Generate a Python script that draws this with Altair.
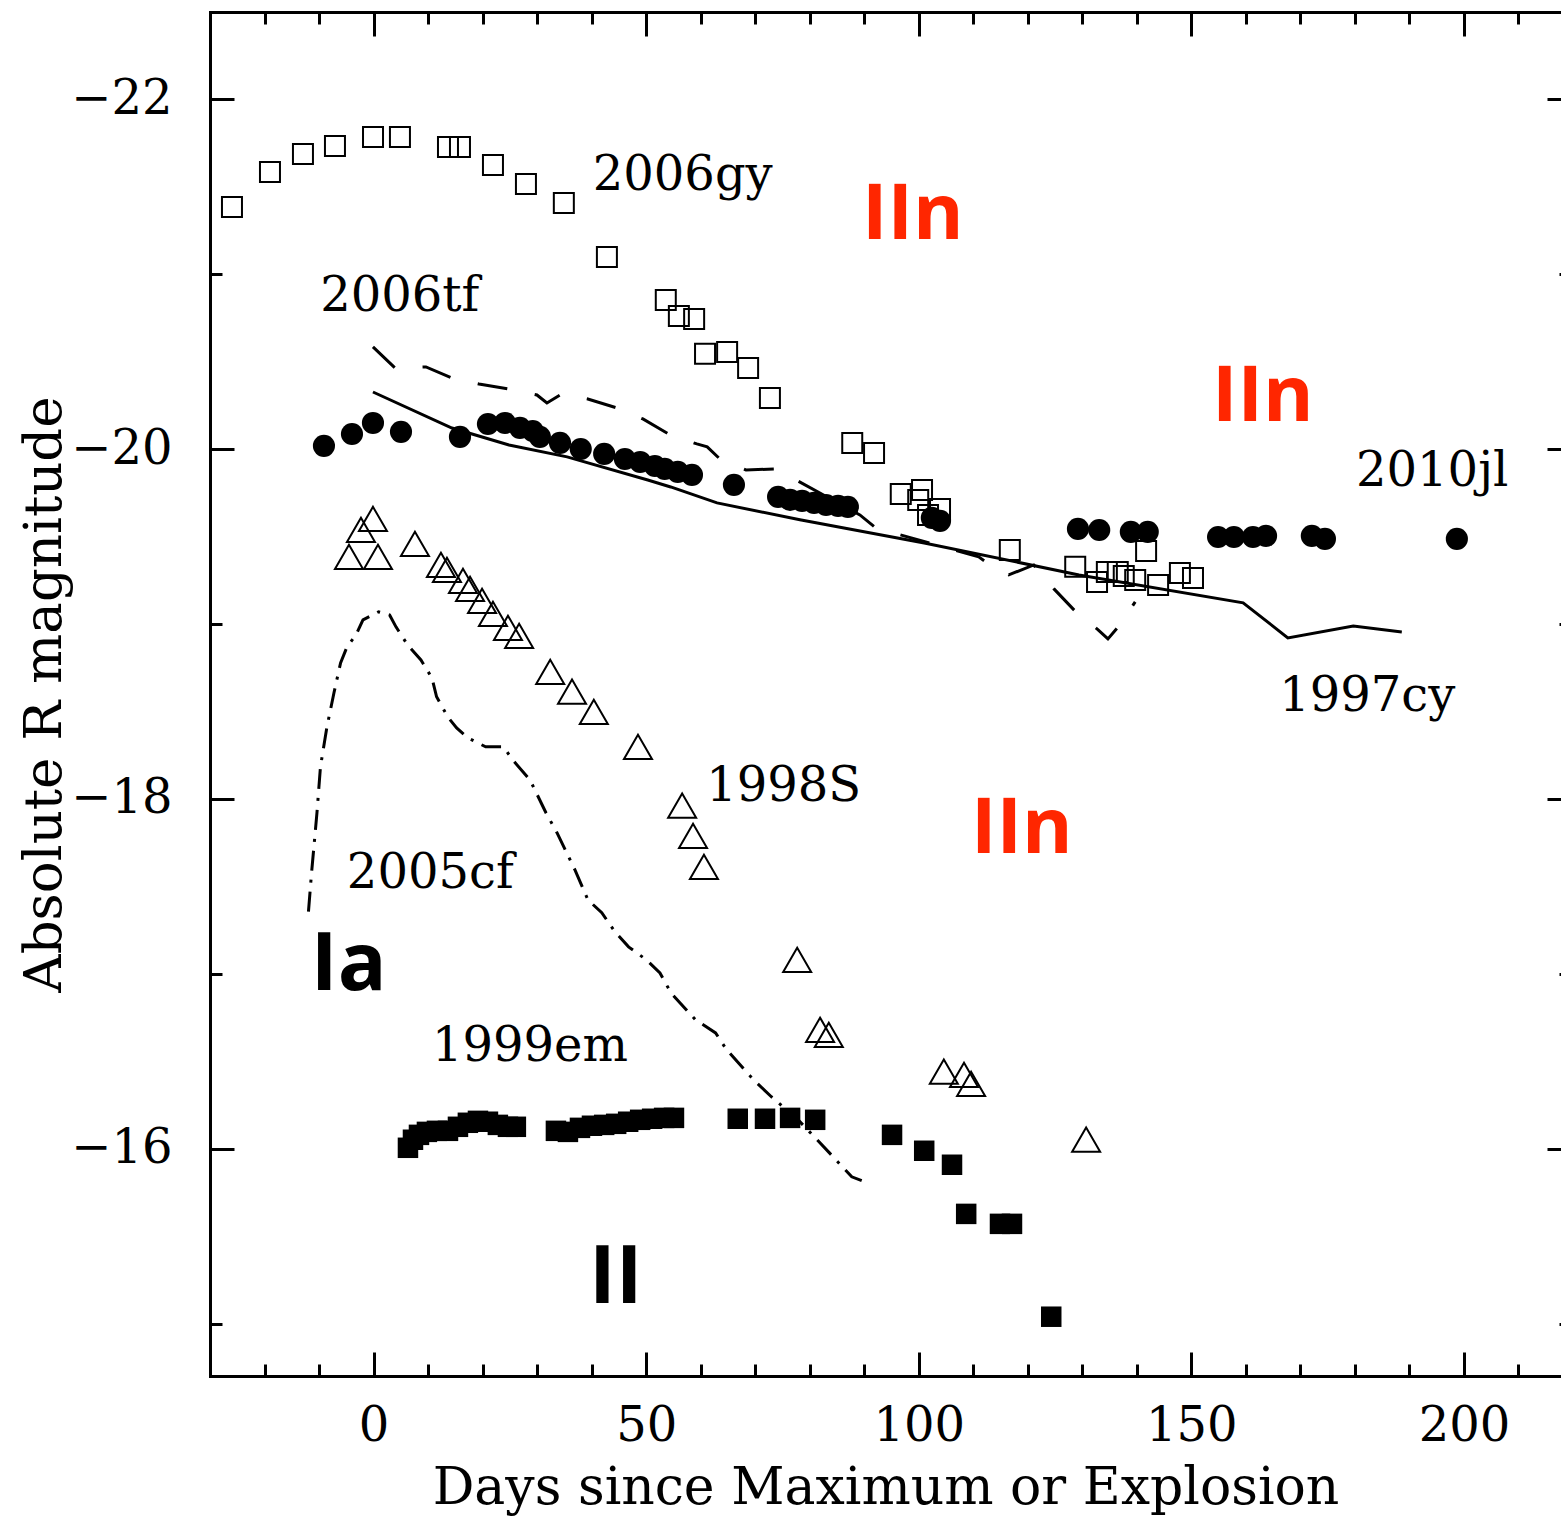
import altair as alt
import pandas as pd

# ---------------------------------------------------------------------------
# Light curves: days since maximum (or explosion) vs. absolute R magnitude
# ---------------------------------------------------------------------------

# SN 2006gy (IIn) - open squares
gy_day = [-25.97, -19.0, -12.95, -7.08, -0.1, 4.84, 13.65, 15.85, 21.9, 27.95,
          34.9, 42.8, 53.6, 56.0, 58.8, 60.8, 64.85, 68.7, 72.7, 87.8,
          91.8, 96.7, 100.6, 99.9, 101.7, 103.9, 116.7, 128.7, 132.7, 134.5,
          136.5, 137.6, 139.7, 141.7, 143.9, 147.9, 150.3]
gy_mag = [-21.385, -21.585, -21.688, -21.734, -21.785, -21.785, -21.728, -21.728,
          -21.625, -21.517, -21.408, -21.099, -20.853, -20.762, -20.745, -20.545,
          -20.556, -20.464, -20.293, -20.036, -19.978, -19.744, -19.767, -19.710,
          -19.624, -19.658, -19.424, -19.327, -19.241, -19.298, -19.298, -19.275,
          -19.252, -19.418, -19.224, -19.292, -19.264]

# SN 2010jl (IIn) - filled circles
jl_day = [-9.10, -3.96, -0.11, 5.03, 15.85, 20.98, 24.1, 26.85, 29.2, 30.5,
          34.2, 38.0, 42.3, 46.1, 48.9, 51.6, 53.4, 55.8, 58.4, 66.1,
          74.2, 76.4, 78.6, 80.8, 83.0, 85.2, 87.0, 102.4, 103.9, 129.2,
          133.1, 138.9, 142.0, 154.9, 157.8, 161.3, 163.7, 172.1, 174.5, 198.7]
jl_mag = [-20.019, -20.087, -20.150, -20.099, -20.070, -20.144, -20.150, -20.122,
          -20.104, -20.070, -20.036, -20.001, -19.973, -19.944, -19.927, -19.904,
          -19.887, -19.870, -19.853, -19.796, -19.727, -19.710, -19.704, -19.693,
          -19.681, -19.676, -19.670, -19.607, -19.590, -19.544, -19.538, -19.527,
          -19.527, -19.498, -19.498, -19.498, -19.504, -19.504, -19.487, -19.487]

# SN 1998S (IIn) - open triangles
s98_day = [-4.51, -2.31, -0.11, 0.81, 7.59, 12.36, 13.46, 16.4, 17.7, 19.9,
           21.9, 24.65, 26.7, 32.4, 36.4, 40.4, 48.5, 56.6, 58.6, 60.6,
           77.7, 81.9, 83.5, 104.6, 108.3, 109.6, 130.7]
s98_mag = [-19.384, -19.538, -19.601, -19.384, -19.458, -19.338, -19.310, -19.247,
           -19.201, -19.133, -19.058, -18.978, -18.933, -18.727, -18.613, -18.498,
           -18.298, -17.961, -17.789, -17.612, -17.080, -16.680, -16.651, -16.440,
           -16.422, -16.371, -16.051]

# SN 1999em (II-P) - filled squares
em_day = [6.31, 7.23, 8.33, 9.79, 11.63, 13.65, 15.48, 17.3, 19.15, 20.98,
          22.8, 24.65, 26.1, 33.45, 35.65, 37.86, 40.06, 42.3, 44.5, 46.7,
          48.9, 51.1, 53.3, 55.1, 66.8, 71.8, 76.4, 81.0, 95.1, 101.0,
          106.1, 108.7, 114.9, 117.1, 124.3]
em_mag = [-16.005, -16.051, -16.079, -16.096, -16.102, -16.102, -16.125, -16.148,
          -16.159, -16.154, -16.136, -16.125, -16.125, -16.102, -16.096, -16.119,
          -16.131, -16.136, -16.142, -16.154, -16.165, -16.171, -16.176, -16.176,
          -16.171, -16.171, -16.176, -16.165, -16.079, -15.988, -15.908, -15.627,
          -15.570, -15.570, -15.039]

# SN 2006tf (IIn) - dashed curve
tf_day = [-0.11, 3.93, 9.61, 14.38, 19.33, 24.84, 29.97, 31.8, 34.56, 39.3,
          44.6, 49.4, 54.4, 59.3, 61.2, 63.7, 68.3, 73.8, 89.2, 92.1,
          111.0, 112.5, 116.5, 121.1, 124.8, 128.8, 132.9, 134.7, 136.9, 139.7]
tf_mag = [-20.585, -20.465, -20.470, -20.407, -20.373, -20.344, -20.310, -20.264,
          -20.316, -20.287, -20.236, -20.173, -20.082, -20.030, -20.013, -19.939,
          -19.881, -19.887, -19.624, -19.550, -19.384, -19.350, -19.281, -19.338,
          -19.201, -19.070, -18.967, -18.915, -18.995, -19.127]

# SN 1997cy (IIn) - solid curve
cy_day = [-0.11, 14.38, 24.84, 35.5, 50.3, 54.5, 63.0, 78.2, 101.0, 129.4,
          159.5, 167.7, 179.7, 188.6]
cy_mag = [-20.327, -20.121, -20.024, -19.956, -19.824, -19.784, -19.693, -19.596,
          -19.464, -19.281, -19.121, -18.921, -18.989, -18.955]

# SN 2005cf (Ia) - dash-dot curve
cf_day = [-11.94, -11.37, -10.38, -9.74, -8.55, -7.26, -6.05, -4.88, -3.23, -1.94,
          0.92, 2.95, 4.11, 6.24, 8.69, 10.71, 11.56, 13.61, 15.24, 17.31,
          20.56, 23.84, 25.48, 28.69, 31.62, 33.64, 36.94, 39.32, 41.86, 44.28,
          46.77, 50.04, 52.53, 54.55, 59.04, 62.73, 64.78, 69.70, 72.96, 77.84,
          83.62, 87.71, 90.13]
cf_mag = [-17.356, -17.578, -17.921, -18.184, -18.412, -18.607, -18.778, -18.869,
          -18.938, -19.024, -19.070, -19.052, -18.984, -18.881, -18.795, -18.692,
          -18.584, -18.469, -18.406, -18.349, -18.298, -18.298, -18.224, -18.109,
          -17.921, -17.807, -17.594, -17.423, -17.349, -17.240, -17.154, -17.080,
          -17.005, -16.891, -16.737, -16.662, -16.565, -16.394, -16.297, -16.166,
          -15.976, -15.839, -15.810]

# Object names
name_text = ["2006gy", "2006tf", "2010jl", "1997cy", "1998S", "2005cf", "1999em"]
name_day = [40.2, -9.8, 180.2, 166.1, 61.0, -4.9, 10.7]
name_mag = [-21.48, -20.79, -19.79, -18.50, -17.99, -17.49, -16.50]

# Spectral classes
iin_text = ["IIn", "IIn", "IIn"]
iin_day = [89.6, 153.8, 109.6]
iin_mag = [-21.20, -20.16, -17.69]

cls_text = ["Ia", "II"]
cls_day = [-11.5, 39.5]
cls_mag = [-16.91, -15.12]

# Axis ticks
x_major = [0, 50, 100, 150, 200]
x_minor = [-20, -10, 10, 20, 30, 40, 60, 70, 80, 90, 110, 120, 130, 140,
           160, 170, 180, 190, 210]
y_major = [-22, -20, -18, -16]
y_minor = [-21, -19, -17, -15]

# ---------------------------------------------------------------------------
W, H = 1351, 1364
SERIF = "DejaVu Serif"
SANS = "Open Sans"

xs = alt.Scale(domain=[-30, 217.8], nice=False, zero=False)
ys = alt.Scale(domain=[-22.5, -14.7], nice=False, zero=False, reverse=True)


def frame(df):
    return pd.DataFrame(df)


def tick_axis(orient, offset, values, size, domain):
    return alt.Axis(orient=orient, offset=offset, values=values, tickSize=size,
                    tickWidth=3, tickColor="black", labels=False, grid=False,
                    domain=domain, domainWidth=3, domainColor="black",
                    domainCap="square", title=None)


# label axes (no ticks)
ax_x_lab = alt.Axis(orient="bottom", values=x_major, ticks=False, domain=False,
                    grid=False, labelFont=SERIF, labelFontSize=48,
                    labelColor="black", labelPadding=26, labelFlush=False,
                    title="Days since Maximum or Explosion", titleFont=SERIF,
                    titleFontSize=52, titleFontWeight="normal", titleColor="black",
                    titleBaseline="alphabetic", titleY=127)
ax_y_lab = alt.Axis(orient="left", values=y_major, ticks=False, domain=False,
                    grid=False, labelFont=SERIF, labelFontSize=48,
                    labelColor="black", labelPadding=38,
                    title="Absolute R magnitude", titleFont=SERIF,
                    titleFontSize=53, titleFontWeight="normal", titleColor="black",
                    titleBaseline="alphabetic", titleX=-150, titleY=H / 2,
                    titleAngle=270)

# inward ticks on all four sides
ax_x_bot_major = tick_axis("top", -H, x_major, 24, True)
ax_x_bot_minor = tick_axis("top", -H, x_minor, 12, False)
ax_x_top_major = tick_axis("bottom", -H, x_major, 24, True)
ax_x_top_minor = tick_axis("bottom", -H, x_minor, 12, False)
ax_y_left_major = tick_axis("right", -W, y_major, 24, True)
ax_y_left_minor = tick_axis("right", -W, y_minor, 12, False)
ax_y_right_major = tick_axis("left", -(W + 10), y_major, 24, False)
ax_y_right_minor = tick_axis("left", -(W + 10), y_minor, 12, False)


def enc(xaxis, yaxis):
    return dict(
        x=alt.X("day:Q", scale=xs, axis=xaxis),
        y=alt.Y("mag:Q", scale=ys, axis=yaxis),
    )


tf = alt.Chart(frame({"day": tf_day, "mag": tf_mag})).mark_line(
    color="black", strokeWidth=3, strokeDash=[30, 28]
).encode(**enc(ax_x_bot_minor, ax_y_left_minor))

cy = alt.Chart(frame({"day": cy_day, "mag": cy_mag})).mark_line(
    color="black", strokeWidth=3
).encode(**enc(ax_x_top_major, ax_y_right_major))

cf = alt.Chart(frame({"day": cf_day, "mag": cf_mag})).mark_line(
    color="black", strokeWidth=3, strokeDash=[20, 9, 3, 9]
).encode(**enc(ax_x_top_minor, ax_y_right_minor))

gy = alt.Chart(frame({"day": gy_day, "mag": gy_mag})).mark_point(
    shape="square", filled=False, size=400, strokeWidth=2, color="black", opacity=1
).encode(**enc(ax_x_lab, ax_y_lab))

jl = alt.Chart(frame({"day": jl_day, "mag": jl_mag})).mark_point(
    shape="circle", filled=True, size=490, color="black", opacity=1
).encode(**enc(ax_x_bot_major, ax_y_left_major))

s98 = alt.Chart(frame({"day": s98_day, "mag": s98_mag})).mark_point(
    shape="triangle-up", filled=False, size=784, strokeWidth=2, color="black", opacity=1
).encode(**enc(None, None))

em = alt.Chart(frame({"day": em_day, "mag": em_mag})).mark_point(
    shape="square", filled=True, size=420, color="black", opacity=1
).encode(**enc(None, None))

names = alt.Chart(frame({"day": name_day, "mag": name_mag, "t": name_text})).mark_text(
    font=SERIF, fontSize=48, align="left", baseline="alphabetic", color="black"
).encode(text="t:N", **enc(None, None))

iin = alt.Chart(frame({"day": iin_day, "mag": iin_mag, "t": iin_text})).mark_text(
    font=SANS, fontSize=77, fontWeight="bold", align="left", baseline="alphabetic",
    color="#FF2600"
).encode(text="t:N", **enc(None, None))

cls = alt.Chart(frame({"day": cls_day, "mag": cls_mag, "t": cls_text})).mark_text(
    font=SANS, fontSize=81, fontWeight="bold", align="left", baseline="alphabetic",
    color="black"
).encode(text="t:N", **enc(None, None))

chart = alt.layer(
    tf, cy, cf, gy, jl, s98, em, names, iin, cls
).resolve_axis(
    x="independent", y="independent"
).properties(
    width=W, height=H,
    autosize=alt.AutoSizeParams(type="none"),
    padding={"left": 210, "top": 12, "right": 0, "bottom": 141},
).configure_view(
    strokeWidth=0
).configure(
    background="white"
)

chart.save("out.html", embed_options={"renderer": "svg", "actions": False})
